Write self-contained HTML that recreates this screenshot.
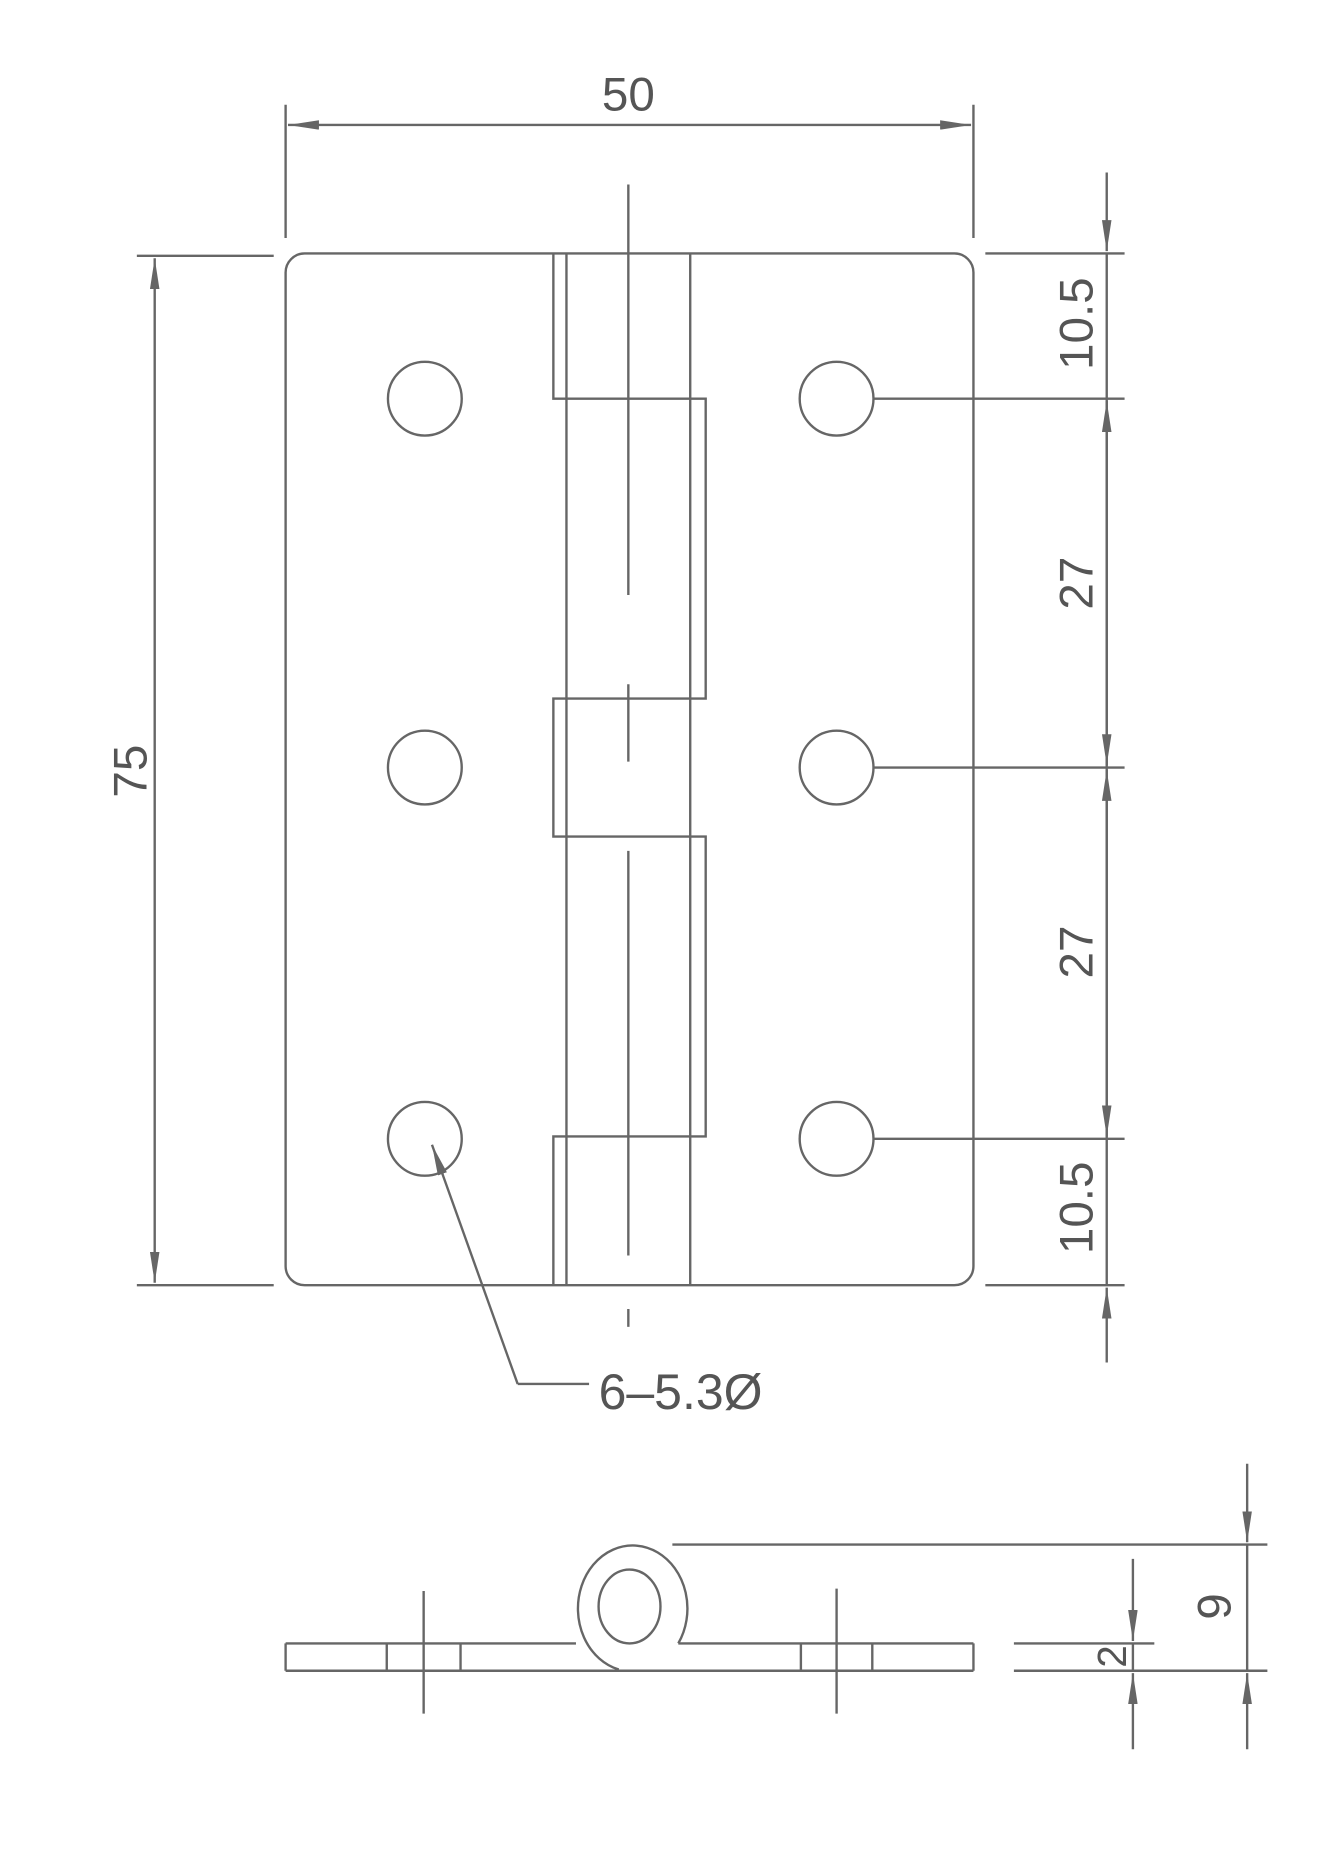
<!DOCTYPE html>
<html><head><style>html,body{margin:0;padding:0;background:#fff}svg{display:block}</style></head>
<body>
<svg width="1337" height="1869" viewBox="0 0 1123.5 1570.6" preserveAspectRatio="none" xmlns="http://www.w3.org/2000/svg">
<defs>
<marker id="a" viewBox="0 0 10 10" refX="10" refY="5" markerWidth="26" markerHeight="8" markerUnits="userSpaceOnUse" orient="auto-start-reverse" preserveAspectRatio="none"><path d="M0,0 L10,5 L0,10 Z" fill="#666"/></marker>
</defs>
<g fill="none" stroke="#666" stroke-width="2">
<line x1="240" y1="88" x2="240" y2="200"/><line x1="818" y1="88" x2="818" y2="200"/>
<line x1="242" y1="105" x2="816" y2="105" marker-start="url(#a)" marker-end="url(#a)"/>
<line x1="115" y1="215" x2="230" y2="215"/><line x1="115" y1="1080" x2="230" y2="1080"/>
<line x1="130" y1="217" x2="130" y2="1078" marker-start="url(#a)" marker-end="url(#a)"/>
<rect x="240" y="213" width="578" height="867" rx="16"/>
<circle cx="357" cy="335" r="31"/><circle cx="357" cy="645" r="31"/><circle cx="357" cy="957" r="31"/>
<circle cx="703" cy="335" r="31"/><circle cx="703" cy="645" r="31"/><circle cx="703" cy="957" r="31"/>
<path d="M465,213 V335 H593 V587 H465 V703 H593 V955 H465 V1080"/>
<line x1="476" y1="213" x2="476" y2="1080"/><line x1="580" y1="213" x2="580" y2="1080"/>
<line x1="528" y1="155" x2="528" y2="500"/><line x1="528" y1="575" x2="528" y2="640"/>
<line x1="528" y1="715" x2="528" y2="1055"/><line x1="528" y1="1100" x2="528" y2="1115"/>
<line x1="828" y1="213" x2="945" y2="213"/><line x1="828" y1="1080" x2="945" y2="1080"/>
<line x1="734" y1="335" x2="945" y2="335"/><line x1="734" y1="645" x2="945" y2="645"/><line x1="734" y1="957" x2="945" y2="957"/>
<line x1="930" y1="213" x2="930" y2="1080"/>
<line x1="930" y1="145" x2="930" y2="211" marker-end="url(#a)"/>
<line x1="930" y1="1145" x2="930" y2="1082" marker-end="url(#a)"/>
<line x1="930" y1="337" x2="930" y2="643" marker-start="url(#a)" marker-end="url(#a)"/>
<line x1="930" y1="647" x2="930" y2="955" marker-start="url(#a)" marker-end="url(#a)"/>
<path d="M435,1163 H495"/>
<line x1="435" y1="1163" x2="363" y2="962" marker-end="url(#a)"/>
<line x1="240" y1="1381" x2="484" y2="1381"/>
<line x1="570" y1="1381" x2="818" y2="1381"/>
<line x1="240" y1="1404" x2="818" y2="1404"/>
<line x1="240" y1="1381" x2="240" y2="1404"/><line x1="818" y1="1381" x2="818" y2="1404"/>
<line x1="325" y1="1381" x2="325" y2="1404"/><line x1="387" y1="1381" x2="387" y2="1404"/>
<line x1="673" y1="1381" x2="673" y2="1404"/><line x1="733" y1="1381" x2="733" y2="1404"/>
<line x1="356" y1="1337" x2="356" y2="1440"/><line x1="703" y1="1335" x2="703" y2="1440"/>
<path d="M520,1403 A46,53 0 1 1 570,1381"/>
<ellipse cx="529" cy="1350" rx="26" ry="31"/>
<line x1="565" y1="1298" x2="1065" y2="1298"/>
<line x1="852" y1="1381" x2="970" y2="1381"/><line x1="852" y1="1404" x2="1065" y2="1404"/>
<line x1="1048" y1="1298" x2="1048" y2="1404"/>
<line x1="1048" y1="1230" x2="1048" y2="1296" marker-end="url(#a)"/>
<line x1="1048" y1="1470" x2="1048" y2="1406" marker-end="url(#a)"/>
<line x1="952" y1="1381" x2="952" y2="1404"/>
<line x1="952" y1="1310" x2="952" y2="1379" marker-end="url(#a)"/>
<line x1="952" y1="1470" x2="952" y2="1406" marker-end="url(#a)"/>
</g>
<g fill="#555" font-family="Liberation Sans, sans-serif" font-size="40">
<text x="528" y="93" text-anchor="middle">50</text>
<text transform="translate(123,648) rotate(-90)" text-anchor="middle">75</text>
<text transform="translate(918,272) rotate(-90)" text-anchor="middle">10.5</text>
<text transform="translate(918,490) rotate(-90)" text-anchor="middle">27</text>
<text transform="translate(918,800) rotate(-90)" text-anchor="middle">27</text>
<text transform="translate(918,1015) rotate(-90)" text-anchor="middle">10.5</text>
<text x="503" y="1184" font-size="42">6–5.3Ø</text>
<text transform="translate(1034,1350) rotate(-90)" text-anchor="middle">9</text>
<text transform="translate(946,1392) rotate(-90)" text-anchor="middle" font-size="34">2</text>
</g>
</svg>
</body></html>
